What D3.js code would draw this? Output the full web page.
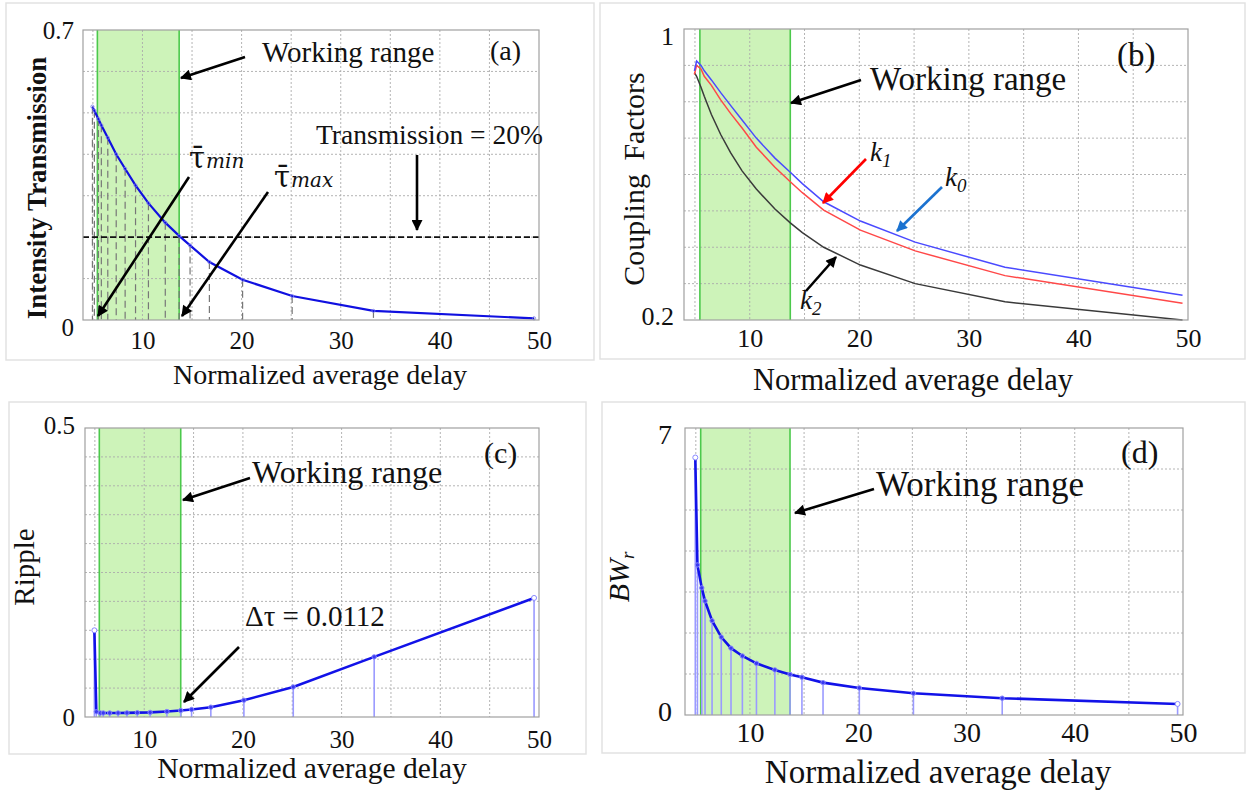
<!DOCTYPE html>
<html>
<head>
<meta charset="utf-8">
<script src="https://cdn.jsdelivr.net/npm/d3@7"></script>
<style>
  body { margin: 0; background: #fff; }
  svg { display: block; }
</style>
</head>
<body>
<div id="chart"></div>
<script>
// normalized average delay of each computed design (shared by all four panels)
var delay = [4.95, 5.15, 5.55, 5.85, 6.5, 7.35, 8.25, 9.3, 10.6, 12.3, 13.7, 14.8, 16.75, 20.1, 25.1, 33.3, 49.5];
// (a) intensity transmission
var transmission = [0.515, 0.505, 0.485, 0.47, 0.44, 0.40, 0.365, 0.325, 0.282, 0.235, 0.203, 0.18, 0.14, 0.097, 0.058, 0.022, 0.004];
// (b) coupling factors
var k0 = [0.885, 0.912, 0.90, 0.885, 0.86, 0.825, 0.79, 0.75, 0.70, 0.645, 0.606, 0.575, 0.525, 0.472, 0.414, 0.345, 0.268];
var k1 = [0.875, 0.90, 0.89, 0.87, 0.845, 0.805, 0.768, 0.728, 0.675, 0.62, 0.58, 0.55, 0.502, 0.447, 0.39, 0.322, 0.246];
var k2 = [0.88, 0.87, 0.84, 0.815, 0.765, 0.71, 0.66, 0.61, 0.56, 0.505, 0.467, 0.44, 0.40, 0.351, 0.30, 0.25, 0.2];
// (c) ripple
var ripple = [0.15, 0.009, 0.007, 0.007, 0.007, 0.007, 0.0072, 0.0075, 0.008, 0.0095, 0.0112, 0.013, 0.017, 0.029, 0.052, 0.104, 0.206];
// (d) relative bandwidth
var bandwidth = [6.28, 3.66, 3.1, 2.78, 2.3, 1.9, 1.63, 1.44, 1.26, 1.1, 0.99, 0.92, 0.79, 0.66, 0.53, 0.41, 0.27];

var workingRange = [5.45, 13.7];
var transmissionLimit = 0.2;
var xTicks = [10, 20, 30, 40, 50];
var xGrid = [5, 10, 15, 20, 25, 30, 35, 40, 45];
var xDomain = [4, 50];

var serif = "'Liberation Serif', 'Times New Roman', serif";
var width = 1246, height = 796;

var svg = d3.select("#chart").append("svg")
    .attr("width", width)
    .attr("height", height)
    .style("background", "#fff");

var defs = svg.append("defs");
function makeHead(id, color) {
    defs.append("marker")
        .attr("id", id)
        .attr("viewBox", "0 0 10 10")
        .attr("refX", 9).attr("refY", 5)
        .attr("markerWidth", 15).attr("markerHeight", 11)
        .attr("markerUnits", "userSpaceOnUse")
        .attr("orient", "auto")
        .append("path")
        .attr("d", "M0,0 L10,5 L0,10 Z")
        .attr("fill", color);
}
makeHead("headBlack", "#000");
makeHead("headRed", "#ff0000");
makeHead("headBlue", "#1b72d0");

function arrow(x1, y1, x2, y2, color, head) {
    svg.append("line")
        .attr("x1", x1).attr("y1", y1).attr("x2", x2).attr("y2", y2)
        .attr("stroke", color).attr("stroke-width", 2.6)
        .attr("marker-end", "url(#" + head + ")");
}

function label(x, y, txt, size, opts) {
    opts = opts || {};
    return svg.append("text")
        .attr("x", x).attr("y", y)
        .attr("font-family", opts.family || serif)
        .attr("font-size", size)
        .attr("font-style", opts.italic ? "italic" : null)
        .attr("font-weight", opts.bold ? "bold" : null)
        .attr("text-anchor", opts.anchor || "start")
        .attr("fill", "#111")
        .text(txt);
}

var panels = [
    {name: "a", frame: [6, 3, 588, 357], left: 83, right: 539, top: 30, bottom: 320,
     yDomain: [0, 0.7], yTicks: [0, 0.7], yGrid: d3.range(0.1, 0.65, 0.1),
     tickFont: 25, xPad: 11, yPad: 9, yNudge: [7, 0],
     title: {x: 320, y: 384, size: 28}},
    {name: "b", frame: [600, 3, 645, 356], left: 684, right: 1188, top: 29, bottom: 320,
     yDomain: [0.2, 1], yTicks: [0.2, 1], yGrid: d3.range(0.3, 0.95, 0.1),
     tickFont: 26, xPad: 9, yPad: 10, yNudge: [-4, 7],
     title: {x: 913, y: 390, size: 30.5}},
    {name: "c", frame: [9, 402, 577, 352], left: 85, right: 539, top: 428, bottom: 717,
     yDomain: [0, 0.5], yTicks: [0, 0.5], yGrid: d3.range(0.05, 0.48, 0.05),
     tickFont: 25, xPad: 13, yPad: 10, yNudge: [0, -3],
     title: {x: 312, y: 778, size: 29.5}},
    {name: "d", frame: [602, 402, 643, 351], left: 685, right: 1183, top: 428, bottom: 715,
     yDomain: [0, 7], yTicks: [0, 7], yGrid: d3.range(1, 6.5, 1),
     tickFont: 28, xPad: 7, yPad: 13, yNudge: [-3, 7],
     title: {x: 938, y: 783, size: 33}}
];

function drawPanel(p) {
    var x = d3.scaleLinear().domain(xDomain).range([p.left, p.right]);
    var y = d3.scaleLinear().domain(p.yDomain).range([p.bottom, p.top]);

    svg.append("rect")
        .attr("x", p.frame[0]).attr("y", p.frame[1])
        .attr("width", p.frame[2]).attr("height", p.frame[3])
        .attr("fill", "none").attr("stroke", "#e2e2e2").attr("stroke-width", 1.5);

    // working range band
    svg.append("rect")
        .attr("x", x(workingRange[0])).attr("y", p.top)
        .attr("width", x(workingRange[1]) - x(workingRange[0]))
        .attr("height", p.bottom - p.top)
        .attr("fill", "#cdf3b9");

    var grid = svg.append("g")
        .attr("stroke", "#ababab").attr("stroke-width", 0.9)
        .attr("stroke-dasharray", "2,2");
    grid.selectAll(".gx").data(xGrid).enter().append("line")
        .attr("x1", function(d){ return x(d); }).attr("x2", function(d){ return x(d); })
        .attr("y1", p.top).attr("y2", p.bottom);
    grid.selectAll(".gy").data(p.yGrid).enter().append("line")
        .attr("x1", p.left).attr("x2", p.right)
        .attr("y1", function(d){ return y(d); }).attr("y2", function(d){ return y(d); });

    svg.selectAll(".edge" + p.name).data(workingRange).enter().append("line")
        .attr("x1", function(d){ return x(d); }).attr("x2", function(d){ return x(d); })
        .attr("y1", p.top).attr("y2", p.bottom)
        .attr("stroke", "#4cc94c").attr("stroke-width", 1.6);

    svg.append("g")
        .attr("transform", "translate(0," + p.bottom + ")")
        .call(d3.axisBottom(x).tickValues(xTicks).tickSize(0).tickPadding(p.xPad))
        .call(function(g){ g.select(".domain").remove(); })
        .attr("font-family", serif).attr("font-size", p.tickFont)
        .selectAll("text").attr("fill", "#111");

    svg.append("g")
        .attr("transform", "translate(" + p.left + ",0)")
        .call(d3.axisLeft(y).tickValues(p.yTicks).tickSize(0).tickPadding(p.yPad)
              .tickFormat(function(d){ return String(d); }))
        .call(function(g){ g.select(".domain").remove(); })
        .attr("font-family", serif).attr("font-size", p.tickFont)
        .selectAll("text").attr("fill", "#111")
        .attr("dy", function(d, i){ return (0.32 * p.tickFont + p.yNudge[i]) + "px"; });

    label(p.title.x, p.title.y, "Normalized average delay", p.title.size, {anchor: "middle"});

    return {x: x, y: y};
}

function drawBox(p) {
    svg.append("rect")
        .attr("x", p.left).attr("y", p.top)
        .attr("width", p.right - p.left).attr("height", p.bottom - p.top)
        .attr("fill", "none").attr("stroke", "#a0a0a0").attr("stroke-width", 1.2);
}

function series(values) {
    return delay.map(function(d, i){ return [d, values[i]]; });
}

// ---------- (a) ----------
var pa = panels[0];
var sa = drawPanel(pa);
var dataA = series(transmission);
svg.append("g").selectAll("line").data(dataA).enter().append("line")
    .attr("x1", function(d){ return sa.x(d[0]); }).attr("x2", function(d){ return sa.x(d[0]); })
    .attr("y1", function(d){ return sa.y(d[1]); }).attr("y2", sa.y(0))
    .attr("stroke", "#777").attr("stroke-width", 1.2).attr("stroke-dasharray", "7,4");
svg.append("line")
    .attr("x1", pa.left).attr("x2", pa.right)
    .attr("y1", sa.y(transmissionLimit)).attr("y2", sa.y(transmissionLimit))
    .attr("stroke", "#111").attr("stroke-width", 1.8).attr("stroke-dasharray", "6,3");
svg.append("path").datum(dataA)
    .attr("d", d3.line().x(function(d){ return sa.x(d[0]); }).y(function(d){ return sa.y(d[1]); }))
    .attr("fill", "none").attr("stroke", "#1010e0").attr("stroke-width", 2.2);
svg.append("g").selectAll("circle").data(dataA).enter().append("circle")
    .attr("cx", function(d){ return sa.x(d[0]); }).attr("cy", function(d){ return sa.y(d[1]); })
    .attr("r", 1.6).attr("fill", "none").attr("stroke", "#7777ee").attr("stroke-width", 0.8);
drawBox(pa);

svg.append("text")
    .attr("transform", "translate(46,188) rotate(-90)")
    .attr("text-anchor", "middle")
    .attr("font-family", serif).attr("font-size", 27).attr("font-weight", "bold")
    .attr("fill", "#111")
    .text("Intensity Transmission");
label(262, 62, "Working range", 29);
arrow(245, 57, 181, 78, "#000", "headBlack");
label(490, 60, "(a)", 28);
label(316, 144, "Transmission = 20%", 27.5);
arrow(417, 155, 417, 230, "#000", "headBlack");

function tauLabel(xp, yp, sub) {
    var t = svg.append("text").attr("x", xp).attr("y", yp)
        .attr("font-family", "'DejaVu Serif', serif").attr("fill", "#111");
    t.append("tspan").attr("font-size", 29).text("\u03C4\u0304");
    t.append("tspan").attr("font-size", 20).attr("font-style", "italic").attr("dx", 1).text(sub);
}
tauLabel(189, 168, "min");
tauLabel(274, 187, "max");
arrow(189, 177, 98, 316, "#000", "headBlack");
arrow(268, 192, 182, 316, "#000", "headBlack");

// ---------- (b) ----------
var pb = panels[1];
var sb = drawPanel(pb);
var lineB = d3.line().x(function(d){ return sb.x(d[0]); }).y(function(d){ return sb.y(d[1]); });
var coupling = [
    {key: "k2", values: k2, color: "#3a3a3a"},
    {key: "k1", values: k1, color: "#ff4848"},
    {key: "k0", values: k0, color: "#4a4aff"}
];
svg.append("g").selectAll("path").data(coupling).enter().append("path")
    .attr("d", function(c){ return lineB(series(c.values)); })
    .attr("fill", "none")
    .attr("stroke", function(c){ return c.color; })
    .attr("stroke-width", 1.5);
drawBox(pb);

svg.append("text")
    .attr("transform", "translate(644,179) rotate(-90)")
    .attr("text-anchor", "middle")
    .attr("font-family", serif).attr("font-size", 30)
    .attr("word-spacing", 6)
    .attr("fill", "#111")
    .text("Coupling Factors");
label(870, 90, "Working range", 33);
arrow(861, 80, 791, 103, "#000", "headBlack");
label(1117, 66, "(b)", 33);

function kLabel(xp, yp, sub) {
    var t = svg.append("text").attr("x", xp).attr("y", yp)
        .attr("font-family", serif).attr("font-style", "italic").attr("fill", "#111");
    t.append("tspan").attr("font-size", 27).text("k");
    t.append("tspan").attr("font-size", 19).attr("dy", 6).text(sub);
}
kLabel(870, 161, "1");
arrow(866, 159, 823, 203, "#ff0000", "headRed");
kLabel(945, 186, "0");
arrow(942, 187, 897, 231, "#1b72d0", "headBlue");
kLabel(800, 309, "2");
arrow(806, 291, 836, 257, "#000", "headBlack");

// ---------- (c) and (d): stem + line plots ----------
function stemPanel(p, values, firstR) {
    var s = drawPanel(p);
    var pts = series(values);
    svg.append("g").selectAll("line").data(pts).enter().append("line")
        .attr("x1", function(d){ return s.x(d[0]); }).attr("x2", function(d){ return s.x(d[0]); })
        .attr("y1", function(d){ return s.y(d[1]); }).attr("y2", s.y(0))
        .attr("stroke", "#9a9aff").attr("stroke-width", 1.6);
    svg.append("path").datum(pts)
        .attr("d", d3.line().x(function(d){ return s.x(d[0]); }).y(function(d){ return s.y(d[1]); }))
        .attr("fill", "none").attr("stroke", "#1212e8").attr("stroke-width", 2.6);
    svg.append("g").selectAll("circle").data(pts).enter().append("circle")
        .attr("cx", function(d){ return s.x(d[0]); }).attr("cy", function(d){ return s.y(d[1]); })
        .attr("r", function(d, i){ return (i === 0 || i === pts.length - 1) ? firstR : 2.2; })
        .attr("fill", function(d, i){ return (i === 0 || i === pts.length - 1) ? "#fff" : "#3a3af0"; })
        .attr("stroke", "#8888ff").attr("stroke-width", 1);
    drawBox(p);
    return s;
}

var pc = panels[2];
stemPanel(pc, ripple, 2.5);
svg.append("text")
    .attr("transform", "translate(34,567) rotate(-90)")
    .attr("text-anchor", "middle")
    .attr("font-family", serif).attr("font-size", 29)
    .attr("fill", "#111")
    .text("Ripple");
label(252, 483, "Working range", 32);
arrow(250, 478, 183, 500, "#000", "headBlack");
label(484, 463, "(c)", 30);
label(245, 626, "\u0394\u03C4 = 0.0112", 29);
arrow(239, 647, 184, 702, "#000", "headBlack");

var pd = panels[3];
stemPanel(pd, bandwidth, 2.5);
var bw = svg.append("text")
    .attr("transform", "translate(629,577) rotate(-90)")
    .attr("text-anchor", "middle")
    .attr("font-family", serif).attr("font-style", "italic")
    .attr("fill", "#111");
bw.append("tspan").attr("font-size", 30).text("BW");
bw.append("tspan").attr("font-size", 19).attr("dy", 5).text("r");
label(876, 496, "Working range", 35);
arrow(874, 489, 795, 513, "#000", "headBlack");
label(1121, 463, "(d)", 32);
</script>
</body>
</html>
